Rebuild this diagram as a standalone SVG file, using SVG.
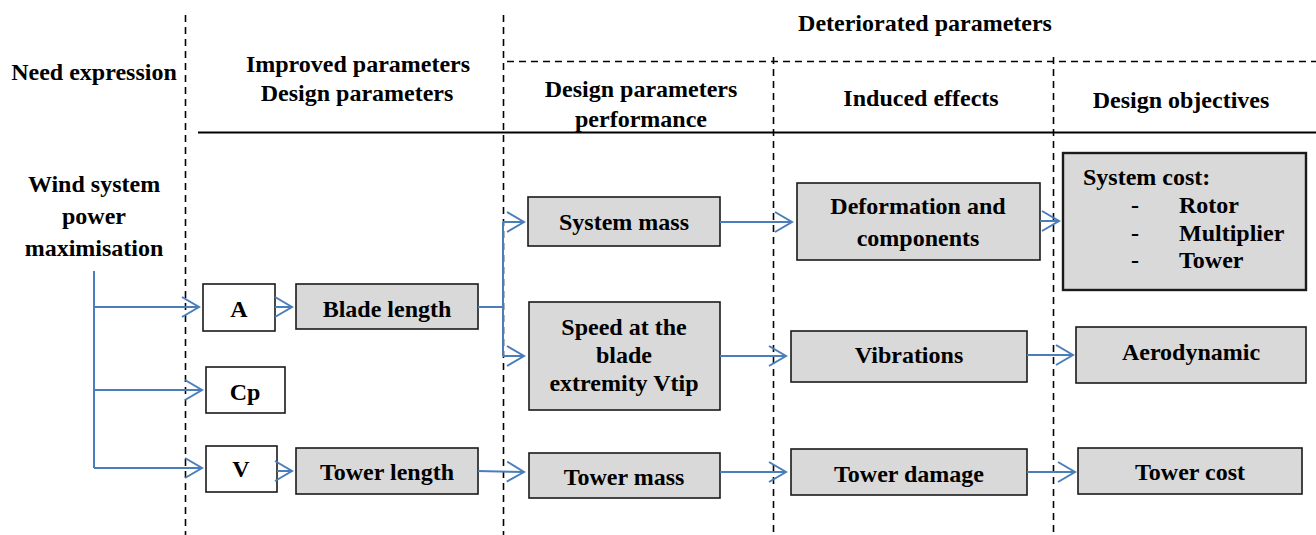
<svg xmlns="http://www.w3.org/2000/svg" width="1316" height="535" viewBox="0 0 1316 535">
<style>
text{font-weight:bold;font-size:24px;fill:#000}
.c{text-anchor:middle}
.box{fill:#d9d9d9;stroke:#1a1a1a;stroke-width:1.6}
.wbox{fill:#fff;stroke:#1a1a1a;stroke-width:1.6}
.dash{stroke:#000;stroke-width:1.6;stroke-dasharray:7 5;fill:none}
.conn{stroke:#4a7ebb;stroke-width:2;fill:none}
.arr{stroke:#4a7ebb;stroke-width:2;fill:none;marker-end:url(#ah)}
</style>
<defs>
<marker id="ah" markerUnits="userSpaceOnUse" viewBox="-19 -12 21 24" refX="0" refY="0" markerWidth="21" markerHeight="24" orient="auto" overflow="visible">
<path d="M-17,-10 L0,0 L-17,10" fill="none" stroke="#4a7ebb" stroke-width="2"/>
</marker>
</defs>
<rect width="1316" height="535" fill="#fff"/>
<g id="grid">
<line class="dash" x1="185.5" y1="15" x2="185.5" y2="535"/>
<line class="dash" x1="503.5" y1="15" x2="503.5" y2="535"/>
<line class="dash" x1="773.5" y1="57" x2="773.5" y2="535"/>
<line class="dash" x1="1053.5" y1="57" x2="1053.5" y2="535"/>
<line class="dash" x1="507" y1="61.5" x2="1316" y2="61.5"/>
<line x1="198" y1="132.5" x2="1316" y2="132.5" stroke="#000" stroke-width="2"/>
</g>
<g font-family="Liberation Serif, Times New Roman, DejaVu Serif, serif">
<g id="headers">
<text x="94" y="80" class="c" font-size="22">Need expression</text>
<text x="358" y="72" class="c">Improved parameters</text>
<text x="357" y="101" class="c">Design parameters</text>
<text x="925" y="31" class="c" font-size="23">Deteriorated parameters</text>
<text x="641" y="97" class="c">Design parameters</text>
<text x="641" y="127" class="c">performance</text>
<text x="921" y="106" class="c">Induced effects</text>
<text x="1181" y="108" class="c">Design objectives</text>
</g>
<g id="need">
<text x="94" y="192" class="c">Wind system</text>
<text x="94" y="224" class="c">power</text>
<text x="94" y="256" class="c">maximisation</text>
</g>
<g id="nodeA"><rect class="wbox" x="203" y="284" width="72" height="47"/><text x="239" y="317" class="c">A</text></g>
<g id="nodeCp"><rect class="wbox" x="206" y="367" width="79" height="46"/><text x="245" y="400" class="c">Cp</text></g>
<g id="nodeV"><rect class="wbox" x="206" y="446" width="71" height="46"/><text x="241" y="477" class="c">V</text></g>
<g id="bladeLength"><rect class="box" x="296" y="284" width="182" height="45"/><text x="387" y="317" class="c">Blade length</text></g>
<g id="towerLength"><rect class="box" x="296" y="448" width="182" height="46"/><text x="387" y="480" class="c">Tower length</text></g>
<g id="systemMass"><rect class="box" x="528" y="197" width="192" height="49"/><text x="624" y="230" class="c">System mass</text></g>
<g id="speed"><rect class="box" x="529" y="302" width="191" height="108"/><text x="624" y="335" class="c">Speed at the</text><text x="624" y="363" class="c">blade</text><text x="624" y="391" class="c">extremity Vtip</text></g>
<g id="towerMass"><rect class="box" x="529" y="453" width="191" height="45"/><text x="624" y="485" class="c">Tower mass</text></g>
<g id="deformation"><rect class="box" x="797" y="183" width="243" height="77"/><text x="918" y="214" class="c">Deformation and</text><text x="918" y="246" class="c">components</text></g>
<g id="vibrations"><rect class="box" x="791" y="331" width="236" height="51"/><text x="909" y="363" class="c">Vibrations</text></g>
<g id="towerDamage"><rect class="box" x="791" y="449" width="236" height="46"/><text x="909" y="482" class="c">Tower damage</text></g>
<g id="systemCost"><rect class="box" x="1063" y="153" width="243" height="137" stroke-width="2.4" style="stroke-width:2.4"/>
<text x="1083" y="185">System cost:</text>
<text x="1135" y="213" class="c">-</text><text x="1179" y="213">Rotor</text>
<text x="1135" y="241" class="c">-</text><text x="1179" y="241">Multiplier</text>
<text x="1135" y="268" class="c">-</text><text x="1179" y="268">Tower</text>
</g>
<g id="aerodynamic"><rect class="box" x="1076" y="327" width="230" height="56"/><text x="1191" y="360" class="c">Aerodynamic</text></g>
<g id="towerCost"><rect class="box" x="1078" y="448" width="224" height="46"/><text x="1190" y="480" class="c">Tower cost</text></g>
</g>
<g id="connectors">
<line class="conn" x1="94" y1="271" x2="94" y2="468"/>
<line class="arr" x1="94" y1="307" x2="199" y2="307"/>
<line class="arr" x1="94" y1="390" x2="202" y2="390"/>
<line class="arr" x1="94" y1="468" x2="202" y2="468"/>
<line class="arr" x1="275" y1="307" x2="292" y2="307"/>
<line class="arr" x1="277" y1="471" x2="292" y2="471"/>
<line class="conn" x1="478" y1="307" x2="503" y2="307"/>
<line class="conn" x1="503" y1="222" x2="503" y2="356"/>
<line class="arr" x1="503" y1="222" x2="524" y2="222"/>
<line class="arr" x1="503" y1="356" x2="524" y2="356"/>
<line class="arr" x1="478" y1="471" x2="524" y2="472"/>
<line class="arr" x1="720" y1="222" x2="792" y2="222"/>
<line class="arr" x1="720" y1="356" x2="786" y2="356"/>
<line class="arr" x1="720" y1="472" x2="786" y2="472"/>
<line class="arr" x1="1040" y1="221" x2="1059" y2="221"/>
<line class="arr" x1="1027" y1="355" x2="1073" y2="355"/>
<line class="arr" x1="1027" y1="472" x2="1075" y2="472"/>
</g>
</svg>
